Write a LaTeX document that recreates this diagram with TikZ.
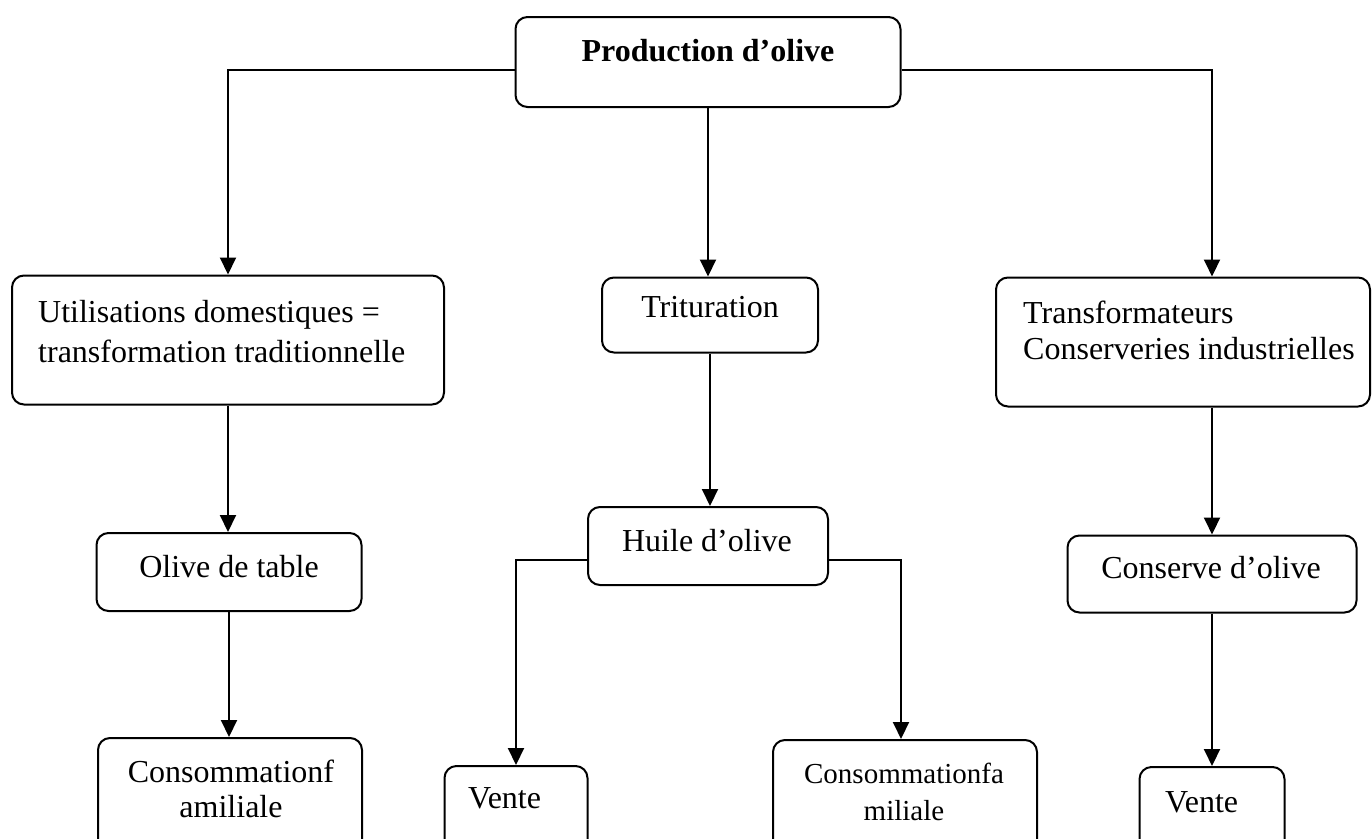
\documentclass[tikz,border=0pt]{standalone}
\usepackage{fontspec}
\setmainfont{Liberation Serif}
\usetikzlibrary{arrows.meta}

\begin{document}
\begin{tikzpicture}[x=1pt,y=-1pt,
  box/.style={draw, line width=2pt, rounded corners=12pt, inner sep=0pt},
  txt/.style={inner sep=0pt, font=\fontsize{32}{38}\selectfont},
  smalltxt/.style={inner sep=0pt, font=\fontsize{29}{35}\selectfont},
  arr/.style={line width=2pt, -{Triangle[length=17pt,width=16pt]}}
]
\useasboundingbox (0,0) rectangle (1372,838);
\clip (0,0) rectangle (1372,838);

% boxes (centre, size)
\node[box, minimum width=385pt, minimum height=90pt]  (prod)     at (708,62)     {};
\node[box, minimum width=432pt, minimum height=129pt] (util)     at (228,340)    {};
\node[box, minimum width=216pt, minimum height=75pt]  (trit)     at (710,315)    {};
\node[box, minimum width=374pt, minimum height=129pt] (trans)    at (1183,342)   {};
\node[box, minimum width=240pt, minimum height=78pt]  (huile)    at (708,546)    {};
\node[box, minimum width=265pt, minimum height=78pt]  (olive)    at (229,572)    {};
\node[box, minimum width=289pt, minimum height=77pt]  (conserve) at (1212,574)   {};
\node[box, minimum width=264pt, minimum height=120pt] (cons1)    at (230,798)    {};
\node[box, minimum width=143pt, minimum height=120pt] (vente1)   at (516,826)    {};
\node[box, minimum width=264pt, minimum height=120pt] (cons2)    at (905,800)    {};
\node[box, minimum width=145pt, minimum height=120pt] (vente2)   at (1212,827)   {};

% labels
\node[txt, anchor=base, font=\fontsize{32}{38}\selectfont\bfseries] (prod-t) at (708,61) {Production d’olive};
\node[txt, anchor=base west] (util-a) at (38,322) {Utilisations domestiques =};
\node[txt, anchor=base west] (util-b) at (38,362) {transformation traditionnelle};
\node[txt, anchor=base] (trit-t) at (710,317) {Trituration};
\node[txt, anchor=base west] (trans-a) at (1023,323) {Transformateurs};
\node[txt, anchor=base west] (trans-b) at (1023,359) {Conserveries industrielles};
\node[txt, anchor=base] (huile-t) at (707,551) {Huile d’olive};
\node[txt, anchor=base] (olive-t) at (229,577) {Olive de table};
\node[txt, anchor=base] (conserve-t) at (1211,578) {Conserve d’olive};
\node[txt, anchor=base] (cons1-a) at (231,782) {Consommationf};
\node[txt, anchor=base] (cons1-b) at (231,817) {amiliale};
\node[txt, anchor=base west] (vente1-t) at (468,808) {Vente};
\node[smalltxt, anchor=base] (cons2-a) at (904,783) {Consommationfa};
\node[smalltxt, anchor=base] (cons2-b) at (904,820) {miliale};
\node[txt, anchor=base west] (vente2-t) at (1165,812) {Vente};

% connectors
\draw[arr] ([yshift=-8pt]prod.west) -| (util.north);
\draw[arr] ([yshift=-8pt]prod.east) -| (conserve.north |- trans.north);
\draw[arr] (prod.south) -- (prod.south |- trit.north);
\draw[arr] (trit.south) -- (trit.south |- huile.north);
\draw[arr] ([yshift=-14pt]huile.west) -| (vente1.north);
\draw[arr] ([yshift=-14pt]huile.east) -| ([xshift=-4pt]cons2.north);
\draw[arr] (util.south) -- (util.south |- olive.north);
\draw[arr] (olive.south) -- (olive.south |- cons1.north);
\draw[arr] (conserve.north |- trans.south) -- (conserve.north);
\draw[arr] (conserve.south) -- (conserve.south |- vente2.north);
\end{tikzpicture}
\end{document}
